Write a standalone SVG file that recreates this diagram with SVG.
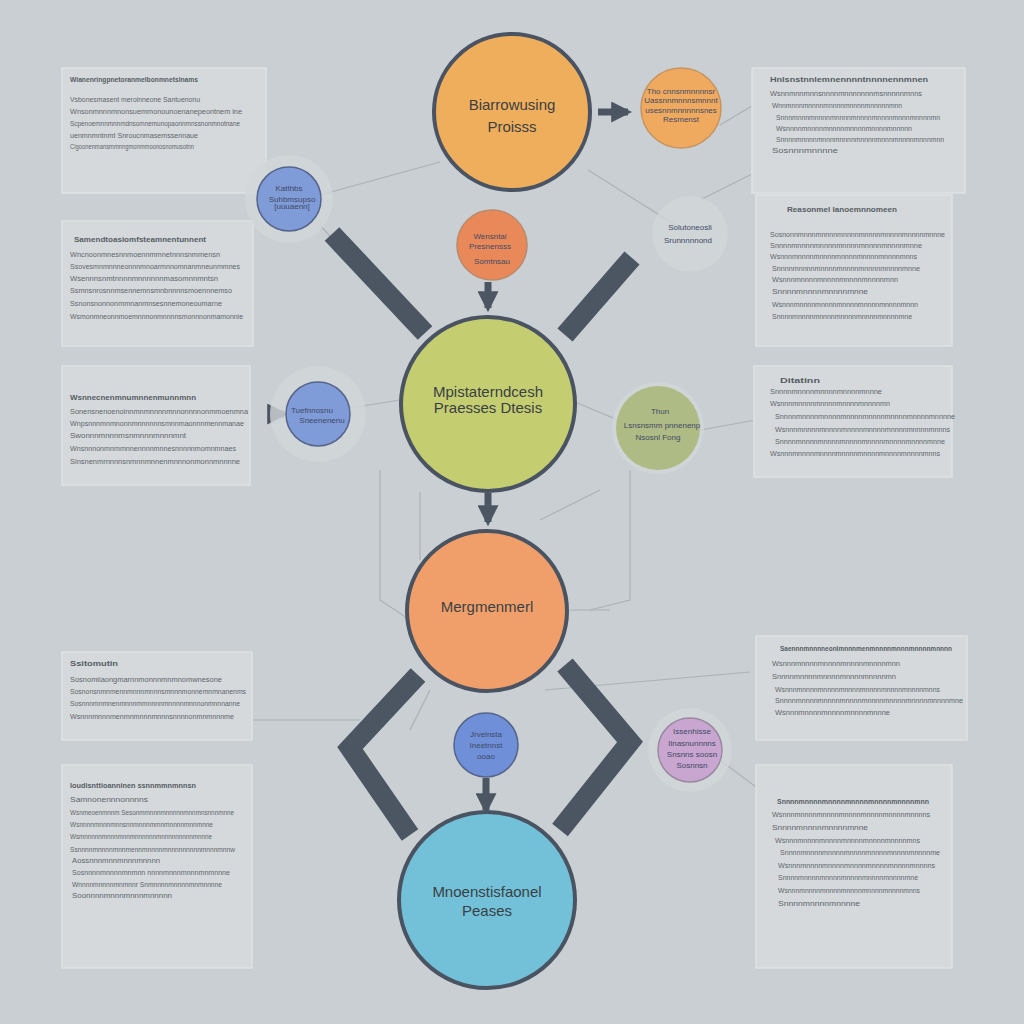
<svg xmlns="http://www.w3.org/2000/svg" width="1024" height="1024" viewBox="0 0 1024 1024">
<defs>
<style>
.panel{fill:#d5d9db;stroke:#dfe2e3;stroke-width:1.5}
.pt{font-family:"Liberation Sans",Arial,sans-serif;font-size:8px;fill:#565d64;font-weight:bold}
.pl{font-family:"Liberation Sans",Arial,sans-serif;font-size:7.5px;fill:#5f666d}
.big{stroke:#4a5361;stroke-width:4}
.bt{font-family:"Liberation Sans",Arial,sans-serif;font-size:15px;fill:#3a3f45;text-anchor:middle}
.st{font-family:"Liberation Sans",Arial,sans-serif;font-size:8px;fill:#3f4a66;text-anchor:middle}
.halo{fill:#d2d6d8;opacity:0.8}
.bar{stroke:#4c5663;stroke-width:20;fill:none;stroke-linecap:butt;stroke-linejoin:miter}
.thin{stroke:#aab2b8;stroke-width:1.2;fill:none}
.arr{stroke:#4c5663;stroke-width:7;fill:none}
</style>
<marker id="ah" viewBox="0 0 10 10" refX="8" refY="5" markerWidth="3" markerHeight="3" orient="auto"><path d="M0,0 L10,5 L0,10 z" fill="#4c5663"/></marker>
</defs>
<rect width="1024" height="1024" fill="#c9cfd2"/>

<g id="connectors">
<path class="thin" d="M320,195 L440,162"/>
<path class="thin" d="M588,170 L680,228"/>
<path class="thin" d="M720,125 L762,100"/>
<path class="thin" d="M268,200 L250,185"/>
<path class="thin" d="M320,225 L360,270"/>
<path class="thin" d="M350,408 L400,400"/>
<path class="thin" d="M575,402 L618,420"/>
<path class="thin" d="M700,430 L756,420"/>
<path class="thin" d="M420,492 L420,560"/>
<path class="thin" d="M380,470 L380,600 L410,620"/>
<path class="thin" d="M630,470 L630,600 L590,610"/>
<path class="thin" d="M540,520 L600,490"/>
<path class="thin" d="M570,610 L610,610"/>
<path class="thin" d="M430,690 L410,730"/>
<path class="thin" d="M720,760 L760,790"/>
<path class="thin" d="M545,690 L750,672"/>
<path class="thin" d="M250,720 L360,720"/>
<path class="thin" d="M700,200 L760,170"/>
<path class="bar" d="M332,234 L425,333"/>
<path class="bar" d="M632,258 L565,335"/>
<path class="bar" d="M418,675 L350,748 L410,835"/>
<path class="bar" d="M565,665 L630,742 L560,830"/>
<path class="arr" d="M598,112 L628,112" marker-end="url(#ah)"/>
<path class="arr" d="M488,282 L488,308" marker-end="url(#ah)"/>
<path class="arr" d="M488,493 L488,522" marker-end="url(#ah)"/>
<path class="arr" d="M486,778 L486,810" marker-end="url(#ah)"/>
<path class="arr" d="M268,414 L284,414" marker-end="url(#ah)"/>
</g>

<g id="panel-l1"><rect class="panel" x="62" y="68" width="204" height="125"/>
<text class="pt" x="70" y="82" textLength="128" lengthAdjust="spacingAndGlyphs">Wianenringpnetoranmelbonmnetslnams</text>
<text class="pl" x="70" y="102" textLength="130" lengthAdjust="spacingAndGlyphs">Vsbonesmasent meroinneone Santuenonu</text>
<text class="pl" x="70" y="114" textLength="172" lengthAdjust="spacingAndGlyphs">Wnsonmnnnmnonsuemmonounoenanepeontnem ine</text>
<text class="pl" x="70" y="126" textLength="170" lengthAdjust="spacingAndGlyphs">Scpenoemnnmnnmdnsomnemunopaonnmnssnonmnotnane</text>
<text class="pl" x="70" y="138" textLength="128" lengthAdjust="spacingAndGlyphs">uenmnmntnmt Snroucnmasemssennaue</text>
<text class="pl" x="70" y="149" textLength="124" lengthAdjust="spacingAndGlyphs">Cigoonenmansmmnngmonmmoonosnomusotnn</text>
</g>
<g id="panel-l2"><rect class="panel" x="62" y="221" width="191" height="125"/>
<text class="pt" x="74" y="242" textLength="132" lengthAdjust="spacingAndGlyphs">Samendtoasiomfsteamnentunnent</text>
<text class="pl" x="70" y="257" textLength="150" lengthAdjust="spacingAndGlyphs">Wncnoonmnesnnmoennmmnetnnnsnmmensn</text>
<text class="pl" x="70" y="269" textLength="170" lengthAdjust="spacingAndGlyphs">Ssovesmnmnnneonnnmnoarmnnomnanmneunmmnes</text>
<text class="pl" x="70" y="281" textLength="148" lengthAdjust="spacingAndGlyphs">Wsennnsnmtnnnnmnnnnnnmasomnnmntsn</text>
<text class="pl" x="70" y="293" textLength="162" lengthAdjust="spacingAndGlyphs">Ssmnsnrosnnmsennemnsmnbnnnnsmoennnemso</text>
<text class="pl" x="70" y="306" textLength="152" lengthAdjust="spacingAndGlyphs">Ssnonsnonnonmmnanmnsesnnemoneoumarne</text>
<text class="pl" x="70" y="319" textLength="173" lengthAdjust="spacingAndGlyphs">Wsmonmneonnmoemnnnonmnnnnsmonnnonmamonnie</text>
</g>
<g id="panel-l3"><rect class="panel" x="62" y="366" width="188" height="119"/>
<text class="pt" x="70" y="400" textLength="126" lengthAdjust="spacingAndGlyphs">Wsnnecnenmnumnnenmunnmnn</text>
<text class="pl" x="70" y="414" textLength="178" lengthAdjust="spacingAndGlyphs">Sonensnenoenoinnmnmnnnnmnnonnnnonmmoenmna</text>
<text class="pl" x="70" y="426" textLength="174" lengthAdjust="spacingAndGlyphs">Wnpsnnnmnmnonnmnnnnnnsmnnmaonnnmennmanae</text>
<text class="pl" x="70" y="438" textLength="116" lengthAdjust="spacingAndGlyphs">Swonnnmnnnmsnmnnnmnnnmnt</text>
<text class="pl" x="70" y="451" textLength="166" lengthAdjust="spacingAndGlyphs">Wnsnnnonmnmmnnennnnmnnesnnnnnmomnmnaes</text>
<text class="pl" x="70" y="464" textLength="170" lengthAdjust="spacingAndGlyphs">Sinsnenmrnnnnsnmnnmnnenmnnnonmonnmnnnne</text>
</g>
<g id="panel-l4"><rect class="panel" x="62" y="652" width="190" height="88"/>
<text class="pt" x="70" y="666" textLength="48" lengthAdjust="spacingAndGlyphs">Ssitomutin</text>
<text class="pl" x="70" y="682" textLength="152" lengthAdjust="spacingAndGlyphs">Sosnomiiaongmarnnmonnnmnmnomwnesone</text>
<text class="pl" x="70" y="694" textLength="176" lengthAdjust="spacingAndGlyphs">Sosnonsnmnmennmnnnmnnnsmnnnmonnemnmnanenms</text>
<text class="pl" x="70" y="706" textLength="170" lengthAdjust="spacingAndGlyphs">Sosnnnmnmnenmnnnmmnnnnmnnnnmnnnonmnnnanne</text>
<text class="pl" x="70" y="719" textLength="164" lengthAdjust="spacingAndGlyphs">Wsnnnmnnnmenmnmnnnmnnnsnnnnonmnmnnnme</text>
</g>
<g id="panel-l5"><rect class="panel" x="62" y="765" width="190" height="203"/>
<text class="pt" x="70" y="788" textLength="126" lengthAdjust="spacingAndGlyphs">Ioudisnttioanninen ssnnmmnmnnsn</text>
<text class="pl" x="70" y="802" textLength="78" lengthAdjust="spacingAndGlyphs">Samnonennnonnnns</text>
<text class="pl" x="70" y="815" textLength="164" lengthAdjust="spacingAndGlyphs">Wsnmeoenmnnm Sesonmmnnnmnnnnnmnnmnsnnnmnne</text>
<text class="pl" x="70" y="827" textLength="143" lengthAdjust="spacingAndGlyphs">Wsnnnnmnnnmnnsnnmnnnmmnmnnnnmnnmnne</text>
<text class="pl" x="70" y="839" textLength="142" lengthAdjust="spacingAndGlyphs">Wsmnnnnnmnnnmnnmnnnnnnmnnnnnnnnnmnnne</text>
<text class="pl" x="70" y="852" textLength="165" lengthAdjust="spacingAndGlyphs">Ssnnnnmnnnnmnnmennmnnnnmnnnnnnnnnmnnnmnnw</text>
<text class="pl" x="72" y="863" textLength="88" lengthAdjust="spacingAndGlyphs">Aossnnnmnnmnnnmnnnn</text>
<text class="pl" x="72" y="875" textLength="158" lengthAdjust="spacingAndGlyphs">Sosnnnnmnnnnmnmnn nnnnmnnnmnnnmnmnnne</text>
<text class="pl" x="72" y="887" textLength="150" lengthAdjust="spacingAndGlyphs">Wnnnnmnnnnmnmnnr Snmnnnnmnnnnmnmnnnne</text>
<text class="pl" x="72" y="898" textLength="100" lengthAdjust="spacingAndGlyphs">Soonnnnmnnnmnnnmnnnnn</text>
</g>

<g id="panel-r1"><rect class="panel" x="752" y="68" width="213" height="125"/>
<text class="pt" x="770" y="82" textLength="158" lengthAdjust="spacingAndGlyphs">Hnlsnstnnlemnennnntnnnnennmnen</text>
<text class="pl" x="770" y="96" textLength="152" lengthAdjust="spacingAndGlyphs">Wsnnmnnmnnsnnnnmnnnnnnnmsnnnnnmnns</text>
<text class="pl" x="772" y="108" textLength="130" lengthAdjust="spacingAndGlyphs">Wnnmnnnmnnnnmnnnnmnnnnmnnnnnmnn</text>
<text class="pl" x="776" y="120" textLength="164" lengthAdjust="spacingAndGlyphs">Snnnmnnnmnnnnmnnnnmnnnnmnnnnmnnnmnnnnmn</text>
<text class="pl" x="776" y="131" textLength="136" lengthAdjust="spacingAndGlyphs">Wsnnnnmnnnnmnnnnmnnnnmnnnnmnnnnn</text>
<text class="pl" x="776" y="142" textLength="168" lengthAdjust="spacingAndGlyphs">Snnnnmnnnnmnnnmnnnnmnnnnmnnnmnnnnmnnnmnn</text>
<text class="pl" x="772" y="153" textLength="66" lengthAdjust="spacingAndGlyphs">Sosnnnmnnnne</text>
</g>
<g id="panel-r2"><rect class="panel" x="756" y="195" width="196" height="151"/>
<text class="pt" x="787" y="212" textLength="110" lengthAdjust="spacingAndGlyphs">Reasonmel Ianoemnnomeen</text>
<text class="pl" x="770" y="237" textLength="175" lengthAdjust="spacingAndGlyphs">Sosnonnmnnnmnnnnmnnnnmnnnnmnnnnmnnnnmnnne</text>
<text class="pl" x="770" y="248" textLength="152" lengthAdjust="spacingAndGlyphs">Snnnnmnnnnmnnnnmnnnnmnnnnmnnnnmnne</text>
<text class="pl" x="770" y="259" textLength="147" lengthAdjust="spacingAndGlyphs">Wsnnnmnnnnmnnnnmnnnnmnnnnmnnnnmnns</text>
<text class="pl" x="772" y="271" textLength="148" lengthAdjust="spacingAndGlyphs">Snnnnmnnnnmnnnnmnnnnmnnnnmnnnnmnne</text>
<text class="pl" x="772" y="282" textLength="126" lengthAdjust="spacingAndGlyphs">Wsnnnmnnnnmnnnnmnnnnmnnnnmnn</text>
<text class="pl" x="772" y="294" textLength="96" lengthAdjust="spacingAndGlyphs">Snnnnmnnnnmnnnnmnne</text>
<text class="pl" x="772" y="307" textLength="146" lengthAdjust="spacingAndGlyphs">Wsnnnmnnnnmnnnnmnnnnmnnnnmnnnnmnnn</text>
<text class="pl" x="772" y="319" textLength="140" lengthAdjust="spacingAndGlyphs">Snnnnmnnnnmnnnnmnnnnmnnnnmnnnnmne</text>
</g>
<g id="panel-r3"><rect class="panel" x="754" y="366" width="198" height="111"/>
<text class="pt" x="780" y="383" textLength="40" lengthAdjust="spacingAndGlyphs">Ditatinn</text>
<text class="pl" x="770" y="394" textLength="112" lengthAdjust="spacingAndGlyphs">Snnnnmnnnnmnnnnmnnnnmnnne</text>
<text class="pl" x="770" y="406" textLength="120" lengthAdjust="spacingAndGlyphs">Wsnnnmnnnnmnnnnmnnnnmnnnnmn</text>
<text class="pl" x="775" y="419" textLength="180" lengthAdjust="spacingAndGlyphs">Snnnnmnnnnmnnnnmnnnnmnnnnmnnnnmnnnnmnnnne</text>
<text class="pl" x="775" y="432" textLength="175" lengthAdjust="spacingAndGlyphs">Wsnnnmnnnnmnnnnmnnnnmnnnnmnnnnmnnnnmnnns</text>
<text class="pl" x="775" y="444" textLength="170" lengthAdjust="spacingAndGlyphs">Snnnnmnnnnmnnnnmnnnnmnnnnmnnnnmnnnnmnne</text>
<text class="pl" x="770" y="456" textLength="170" lengthAdjust="spacingAndGlyphs">Wsnnnmnnnnmnnnnmnnnnmnnnnmnnnnmnnnnmnns</text>
</g>
<g id="panel-r4"><rect class="panel" x="756" y="636" width="211" height="104"/>
<text class="pt" x="780" y="651" textLength="172" lengthAdjust="spacingAndGlyphs">Saennnmnnnneonlmnnnmenmnnnnmnnnmnnnnmnnnn</text>
<text class="pl" x="772" y="666" textLength="128" lengthAdjust="spacingAndGlyphs">Wsnnnmnnnnmnnnnmnnnnmnnnnmnn</text>
<text class="pl" x="772" y="679" textLength="124" lengthAdjust="spacingAndGlyphs">Snnnnmnnnnmnnnnmnnnnmnnnnmn</text>
<text class="pl" x="775" y="692" textLength="165" lengthAdjust="spacingAndGlyphs">Wsnnnmnnnnmnnnnmnnnnmnnnnmnnnnmnnnnmnns</text>
<text class="pl" x="775" y="703" textLength="188" lengthAdjust="spacingAndGlyphs">Snnnnmnnnnmnnnnmnnnnmnnnnmnnnnmnnnnmnnnnmne</text>
<text class="pl" x="775" y="715" textLength="115" lengthAdjust="spacingAndGlyphs">Wsnnnmnnnnmnnnnmnnnnmnnne</text>
</g>
<g id="panel-r5"><rect class="panel" x="756" y="765" width="196" height="203"/>
<text class="pt" x="777" y="804" textLength="152" lengthAdjust="spacingAndGlyphs">Snnnnmnnnnmnnnnmnnnnmnnnnmnnnnmnn</text>
<text class="pl" x="772" y="817" textLength="158" lengthAdjust="spacingAndGlyphs">Wsnnnmnnnnmnnnnmnnnnmnnnnmnnnnmnnnns</text>
<text class="pl" x="772" y="830" textLength="96" lengthAdjust="spacingAndGlyphs">Snnnnmnnnnmnnnnmnne</text>
<text class="pl" x="775" y="843" textLength="145" lengthAdjust="spacingAndGlyphs">Wsnnnmnnnnmnnnnmnnnnmnnnnmnnnnmns</text>
<text class="pl" x="780" y="855" textLength="160" lengthAdjust="spacingAndGlyphs">Snnnnmnnnnmnnnnmnnnnmnnnnmnnnnmnnnnme</text>
<text class="pl" x="778" y="868" textLength="157" lengthAdjust="spacingAndGlyphs">Wsnnnmnnnnmnnnnmnnnnmnnnnmnnnnmnnnns</text>
<text class="pl" x="778" y="880" textLength="140" lengthAdjust="spacingAndGlyphs">Snnnnmnnnnmnnnnmnnnnmnnnnmnnnnmne</text>
<text class="pl" x="778" y="893" textLength="142" lengthAdjust="spacingAndGlyphs">Wsnnnmnnnnmnnnnmnnnnmnnnnmnnnnmnns</text>
<text class="pl" x="778" y="906" textLength="82" lengthAdjust="spacingAndGlyphs">Snnnnmnnnnmnnnne</text>
</g>

<g id="node-blue-tl"><circle class="halo" cx="289" cy="199" r="44"/><circle cx="289" cy="199" r="32" fill="#7f9bd8" stroke="#55648a" stroke-width="1.5"/>
<text class="st" x="289" y="191" font-size="8">Katthbs</text><text class="st" x="292" y="202" font-size="7">Suhbmsupso</text><text class="st" x="292" y="209" font-size="6">[uuuaenn]</text></g>
<g id="node-orange-tr"><circle cx="681" cy="108" r="40" fill="#f0aa60" stroke="#c79460" stroke-width="1.5"/>
<text class="st" x="681" y="94" font-size="6.5" fill="#5a4a3a">Tho cnnsnmnnnnsr</text><text class="st" x="681" y="103" font-size="7" fill="#5a4a3a">Uassnnmnnnsmnnnt</text><text class="st" x="681" y="113" font-size="7" fill="#5a4a3a">usesnnmnnnnnsnes</text><text class="st" x="681" y="122" font-size="7" fill="#5a4a3a">Resmenst</text></g>
<g id="node-orange-small"><circle cx="492" cy="245" r="35" fill="#e9895a" stroke="#b98a6a" stroke-width="1.5"/>
<text class="st" x="490" y="239" font-size="7.5" fill="#5a3a30">Wensntai</text><text class="st" x="490" y="249" font-size="7.5" fill="#5a3a30">Presnensss</text><text class="st" x="492" y="264" font-size="7.5" fill="#5a3a30">Somtnsau</text></g>
<g id="node-solutions"><circle class="halo" cx="690" cy="234" r="38" opacity="0.5"/>
<text class="st" x="690" y="230" font-size="8" fill="#555c70">Solutoneosli</text><text class="st" x="688" y="243" font-size="8" fill="#555c70">Srunnnnnond</text></g>
<g id="node-blue-ml"><circle class="halo" cx="318" cy="414" r="48"/><circle cx="318" cy="414" r="32" fill="#7f9bd8" stroke="#55648a" stroke-width="1.5"/>
<text class="st" x="312" y="413" font-size="7.5">Tuefnnosnu</text><text class="st" x="322" y="423" font-size="7.5">Sneenenenu</text></g>
<g id="node-green-mr"><circle class="halo" cx="658" cy="428" r="46" opacity="0.6"/><circle cx="658" cy="428" r="42" fill="#a9b676" opacity="0.85"/>
<text class="st" x="660" y="414" font-size="7" fill="#555a44">Thun</text><text class="st" x="662" y="428" font-size="7.5" fill="#404530">Lsnsnsmm pnnenenp</text><text class="st" x="658" y="440" font-size="7.5" fill="#404530">Nsosnl Fong</text></g>
<g id="node-blue-bc"><circle cx="486" cy="745" r="32" fill="#6f8fd8" stroke="#55648a" stroke-width="1.5"/>
<text class="st" x="486" y="737" font-size="7.5">Jrvelnsta</text><text class="st" x="486" y="748" font-size="7.5">Ineetnnst</text><text class="st" x="486" y="759" font-size="7.5">ooao</text></g>
<g id="node-purple"><circle class="halo" cx="690" cy="750" r="42" opacity="0.6"/><circle cx="690" cy="750" r="32" fill="#c8a6cf" stroke="#9a88a0" stroke-width="1.5"/>
<text class="st" x="692" y="734" font-size="7" fill="#5a4a66">Issenhisse</text><text class="st" x="692" y="746" font-size="7" fill="#5a4a66">Ilnasnunnnns</text><text class="st" x="692" y="757" font-size="7" fill="#5a4a66">Snsnns soosn</text><text class="st" x="692" y="768" font-size="7" fill="#5a4a66">Sosnnsn</text></g>

<g id="node-top"><circle class="big" cx="512" cy="112" r="78" fill="#efae5c"/>
<text class="bt" x="512" y="110">Biarrowusing</text><text class="bt" x="512" y="132">Proisss</text></g>
<g id="node-green"><circle class="big" cx="488" cy="404" r="87" fill="#c4cd70"/>
<text class="bt" x="488" y="397">Mpistaterndcesh</text><text class="bt" x="488" y="413">Praesses Dtesis</text></g>
<g id="node-orange"><circle class="big" cx="487" cy="611" r="80" fill="#f09f6a"/>
<text class="bt" x="487" y="612">Mergmenmerl</text></g>
<g id="node-blue"><circle class="big" cx="487" cy="900" r="88" fill="#72c1d8"/>
<text class="bt" x="487" y="897" fill="#2f4c66">Mnoenstisfaonel</text><text class="bt" x="487" y="916" fill="#2f4c66">Peases</text></g>
</svg>
